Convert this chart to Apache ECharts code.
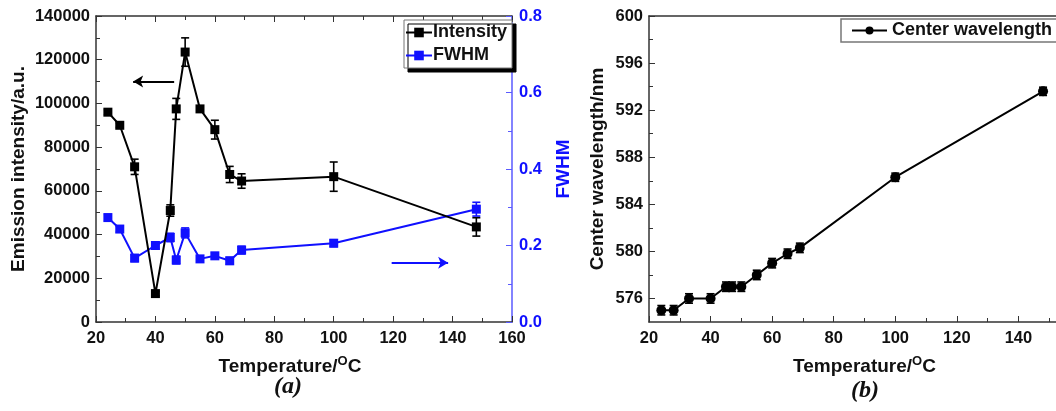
<!DOCTYPE html>
<html>
<head>
<meta charset="utf-8">
<script src="https://cdn.jsdelivr.net/npm/echarts@6/dist/echarts.min.js"></script>
<style>
html,body{margin:0;padding:0;background:#fff;}
#c{width:1056px;height:411px;}
</style>
</head>
<body>
<div id="c"></div>
<script>
// ---- data ----
const temps = [24, 28, 33, 40, 45, 47, 50, 55, 60, 65, 69, 100, 148];
const intensity = [96000, 90000, 71000, 13000, 51000, 97500, 123500, 97500, 88000, 67500, 64500, 66500, 43500];
const intensityErr = [1200, 1000, 3500, 1000, 2600, 4800, 6500, 1200, 4300, 3700, 3300, 6700, 4200];
const fwhm = [0.273, 0.243, 0.167, 0.200, 0.221, 0.162, 0.233, 0.165, 0.173, 0.160, 0.188, 0.206, 0.295];
const fwhmErr = [0.008, 0.008, 0.009, 0.009, 0.011, 0.010, 0.013, 0.008, 0.008, 0.009, 0.010, 0.009, 0.018];
const wavelength = [575, 575, 576, 576, 577, 577, 577, 578, 579, 579.8, 580.3, 586.3, 593.6];
const wavelengthErr = [0.4, 0.4, 0.4, 0.4, 0.4, 0.4, 0.4, 0.4, 0.4, 0.4, 0.4, 0.35, 0.35];
const xTicks = [20, 40, 60, 80, 100, 120, 140, 160];
const intensityTicks = [0, 20000, 40000, 60000, 80000, 100000, 120000, 140000];
const fwhmTicks = [0.0, 0.2, 0.4, 0.6, 0.8];
const wlTicks = [576, 580, 584, 588, 592, 596, 600];
const wlMinorTicks = [578, 582, 586, 590, 594, 598];
const leftArrow = [[46.3, 110000], [32.5, 110000]];
const rightArrow = [[119.5, 0.155], [138.5, 0.155]];

const BLUE = '#1010ff';
const BLUE_AXIS = '#5a5aff';
const FONT = 'Liberation Sans, Arial, sans-serif';
const lbl = {fontFamily: FONT, fontWeight: 'bold', fontSize: 16.5, color: '#111'};
const ttl = {fontFamily: FONT, fontWeight: 'bold', fontSize: 19, color: '#111'};
const leg = {fontFamily: FONT, fontWeight: 'bold', fontSize: 18, color: '#111', lineHeight: 21};

function zip(a, b, c) { return a.map((v, i) => c ? [v, b[i], c[i]] : [v, b[i]]); }

function errRender(color) {
  return function (params, api) {
    const x = api.value(0), y = api.value(1), e = api.value(2);
    const hi = api.coord([x, y + e]);
    const lo = api.coord([x, y - e]);
    const w = 4;
    const st = {stroke: color, lineWidth: 1.6};
    return {type: 'group', children: [
      {type: 'line', shape: {x1: hi[0], y1: hi[1], x2: lo[0], y2: lo[1]}, style: st},
      {type: 'line', shape: {x1: hi[0] - w, y1: hi[1], x2: hi[0] + w, y2: hi[1]}, style: st},
      {type: 'line', shape: {x1: lo[0] - w, y1: lo[1], x2: lo[0] + w, y2: lo[1]}, style: st}
    ]};
  };
}

const tempName = 'Temperature/{sup|O}C';
const nameRich = {sup: {fontFamily: FONT, fontWeight: 'bold', fontSize: 13, color: '#111', padding: [0, 0, 10, 0]}};
const plain = v => String(v);

function xAxisBottom(gridIndex, shift) {
  return {
    type: 'value', gridIndex: gridIndex, position: 'bottom', min: 20, max: 160, interval: 20,
    name: tempName, nameLocation: 'middle', nameGap: 33,
    nameTextStyle: Object.assign({}, ttl, {rich: nameRich, padding: [0, shift, 0, 0]}),
    axisLine: {show: true, onZero: false, lineStyle: {color: '#333', width: 1.5}},
    axisTick: {show: true, inside: true, length: 6, lineStyle: {color: '#333'}},
    minorTick: {show: true, splitNumber: 2, length: 4, lineStyle: {color: '#333'}},
    axisLabel: Object.assign({}, lbl, {margin: 8, customValues: xTicks, formatter: plain}),
    splitLine: {show: false}
  };
}
function xAxisTop(gridIndex, ticks) {
  return {
    type: 'value', gridIndex: gridIndex, position: 'top', min: 20, max: 160, interval: 20,
    axisLine: {show: true, onZero: false, lineStyle: {color: '#333', width: 1.5}},
    axisTick: {show: ticks, inside: true, length: 6, lineStyle: {color: '#333'}},
    minorTick: {show: ticks, splitNumber: 2, length: 4, lineStyle: {color: '#333'}},
    axisLabel: {show: false}, splitLine: {show: false}
  };
}

const option = {
  animation: false,
  backgroundColor: '#fff',
  grid: [
    {left: 96, top: 16, width: 416, height: 306, outerBoundsMode: 'none'},
    {left: 649, top: 16, width: 431, height: 306, outerBoundsMode: 'none'}
  ],
  xAxis: [xAxisBottom(0, 28), xAxisTop(0, true), xAxisBottom(1, 0), xAxisTop(1, false)],
  yAxis: [
    {
      type: 'value', gridIndex: 0, position: 'left', min: 0, max: 140000, interval: 20000,
      name: 'Emission intensity/a.u.', nameLocation: 'middle', nameGap: 68, nameRotate: 90,
      nameTextStyle: ttl,
      axisLine: {show: true, lineStyle: {color: '#333', width: 1.5}},
      axisTick: {show: true, inside: true, length: 6, lineStyle: {color: '#333'}},
      minorTick: {show: true, splitNumber: 2, length: 4, lineStyle: {color: '#333'}},
      axisLabel: Object.assign({}, lbl, {margin: 6, customValues: intensityTicks, formatter: plain}),
      splitLine: {show: false}
    },
    {
      type: 'value', gridIndex: 0, position: 'right', min: 0, max: 0.8, interval: 0.2,
      name: 'FWHM', nameLocation: 'middle', nameGap: 42, nameRotate: 90,
      nameTextStyle: Object.assign({}, ttl, {color: BLUE}),
      axisLine: {show: true, lineStyle: {color: BLUE_AXIS, width: 1.5}},
      axisTick: {show: true, inside: true, length: 6, lineStyle: {color: BLUE_AXIS}},
      minorTick: {show: true, splitNumber: 2, length: 4, lineStyle: {color: BLUE_AXIS}},
      axisLabel: Object.assign({}, lbl, {color: BLUE, margin: 7, customValues: fwhmTicks,
        formatter: v => v.toFixed(1)}),
      splitLine: {show: false}
    },
    {
      type: 'value', gridIndex: 1, position: 'left', min: 574, max: 600,
      name: 'Center wavelength/nm', nameLocation: 'middle', nameGap: 42, nameRotate: 90,
      nameTextStyle: ttl,
      axisLine: {show: true, lineStyle: {color: '#333', width: 1.5}},
      axisTick: {show: true, inside: true, length: 6, customValues: wlTicks, lineStyle: {color: '#333'}},
      axisLabel: Object.assign({}, lbl, {margin: 6, customValues: wlTicks, formatter: plain}),
      splitLine: {show: false}
    },
    {
      type: 'value', gridIndex: 1, position: 'left', min: 574, max: 600,
      axisLine: {show: false},
      axisTick: {show: true, inside: true, length: 4, customValues: wlMinorTicks, lineStyle: {color: '#333'}},
      axisLabel: {show: false}, splitLine: {show: false}
    }
  ],
  legend: [
    {
      data: ['Intensity', 'FWHM'], orient: 'vertical', left: 404, top: 20,
      itemWidth: 26, itemHeight: 12, itemGap: 2,
      padding: [2, 5, 2, 1],
      backgroundColor: '#fff', borderColor: '#777', borderWidth: 1, borderRadius: 0,
      shadowColor: '#000', shadowOffsetX: 4, shadowOffsetY: 4, shadowBlur: 0,
      textStyle: Object.assign({}, leg, {padding: [0, 0, 0, -4]}),
      selectedMode: false
    },
    {
      data: ['Center wavelength'], orient: 'vertical', left: 841, top: 19,
      itemWidth: 35, itemHeight: 10, padding: [1, 40, 1, 10],
      backgroundColor: '#fff', borderColor: '#777', borderWidth: 1.5, borderRadius: 0,
      textStyle: leg,
      selectedMode: false
    }
  ],
  graphic: [
    {type: 'text', left: 274, top: 375, style: {text: '(a)', font: 'italic bold 24px "Liberation Serif", serif', fill: '#111'}},
    {type: 'text', left: 851, top: 379, style: {text: '(b)', font: 'italic bold 24px "Liberation Serif", serif', fill: '#111'}}
  ],
  series: [
    {
      name: 'Intensity', type: 'line', xAxisIndex: 0, yAxisIndex: 0,
      data: zip(temps, intensity), symbol: 'rect', symbolSize: 9,
      itemStyle: {color: '#000'}, lineStyle: {color: '#000', width: 2}, z: 4,
      markLine: {
        silent: true, symbol: ['none', 'arrow'], symbolSize: [9, 10],
        label: {show: false}, lineStyle: {color: '#000', width: 2, type: 'solid'},
        data: [[{coord: leftArrow[0]}, {coord: leftArrow[1]}]]
      }
    },
    {
      name: 'Intensity err', type: 'custom', xAxisIndex: 0, yAxisIndex: 0,
      data: zip(temps, intensity, intensityErr), renderItem: errRender('#000'), z: 5,
      encode: {x: 0, y: 1}
    },
    {
      name: 'FWHM', type: 'line', xAxisIndex: 0, yAxisIndex: 1,
      data: zip(temps, fwhm), symbol: 'rect', symbolSize: 9,
      itemStyle: {color: BLUE}, lineStyle: {color: BLUE, width: 2}, z: 3,
      markLine: {
        silent: true, symbol: ['none', 'arrow'], symbolSize: [9, 10],
        label: {show: false}, lineStyle: {color: BLUE, width: 2, type: 'solid'},
        data: [[{coord: rightArrow[0]}, {coord: rightArrow[1]}]]
      }
    },
    {
      name: 'FWHM err', type: 'custom', xAxisIndex: 0, yAxisIndex: 1,
      data: zip(temps, fwhm, fwhmErr), renderItem: errRender(BLUE), z: 3,
      encode: {x: 0, y: 1}
    },
    {
      name: 'Center wavelength', type: 'line', xAxisIndex: 2, yAxisIndex: 2,
      data: zip(temps, wavelength), symbol: 'circle', symbolSize: 10,
      itemStyle: {color: '#000'}, lineStyle: {color: '#000', width: 2}, z: 4
    },
    {
      name: 'Center wavelength err', type: 'custom', xAxisIndex: 2, yAxisIndex: 2,
      data: zip(temps, wavelength, wavelengthErr), renderItem: errRender('#000'), z: 5,
      encode: {x: 0, y: 1}
    }
  ]
};

const chart = echarts.init(document.getElementById('c'), null, {renderer: 'canvas'});
chart.setOption(option);
</script>
</body>
</html>
